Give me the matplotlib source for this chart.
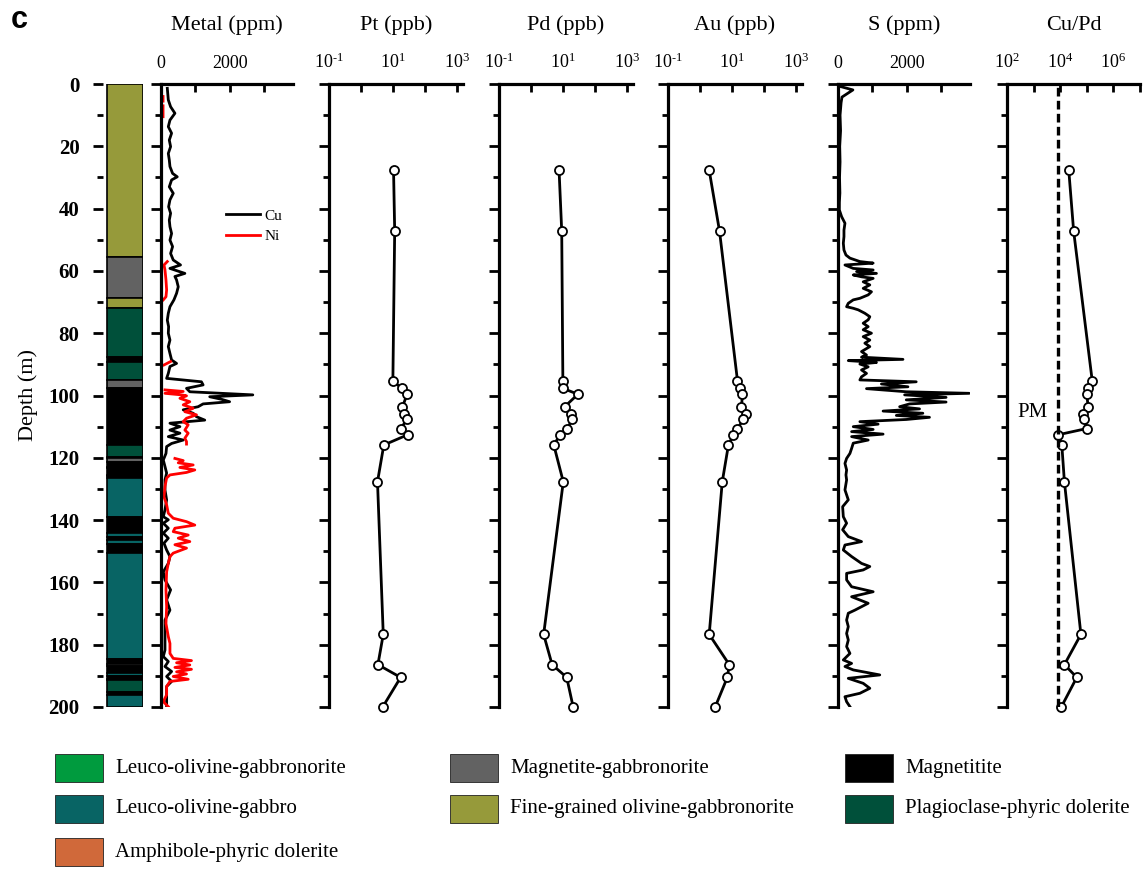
import numpy as np
import matplotlib
matplotlib.use('Agg')
import matplotlib.pyplot as plt
from matplotlib.ticker import MultipleLocator, FixedLocator, FixedFormatter, NullLocator

plt.rcParams['font.family'] = ['Liberation Serif', 'DejaVu Serif']
plt.rcParams['mathtext.fontset'] = 'stix'

# ---------------- data ----------------
lith_top = [0, 55.5, 68.8, 72, 87.8, 89.1, 95.0, 97.5, 115.9, 119.6, 120.2, 121.2, 122.8, 123.3,
            125.6, 126.0, 126.6, 138.9, 144.0, 145.3, 146.3, 147.7, 150.7, 184.7, 186.3, 186.7,
            189.0, 190.2, 191.0, 191.4, 195.1, 196.0]
lith_bot = lith_top[1:] + [200]
lith_type = ['FG', 'MG', 'FG', 'PD', 'MT', 'PD', 'MG', 'MT', 'PD', 'MT', 'MG', 'MT', 'MG', 'MT',
             'MG', 'MT', 'LG', 'MT', 'LG', 'MT', 'LG', 'MT', 'LG', 'MT', 'MG', 'MT',
             'LG', 'MT', 'AD', 'PD', 'MT', 'LG']

legend_names = {
    'LN': 'Leuco-olivine-gabbronorite',
    'LG': 'Leuco-olivine-gabbro',
    'AD': 'Amphibole-phyric dolerite',
    'MG': 'Magnetite-gabbronorite',
    'FG': 'Fine-grained olivine-gabbronorite',
    'MT': 'Magnetitite',
    'PD': 'Plagioclase-phyric dolerite',
}
lith_colors = {'LN': '#009B3E', 'LG': '#086464', 'AD': '#D0693A', 'MG': '#626262',
               'FG': '#969A3A', 'MT': '#000000', 'PD': '#00503A'}
legend_order = [['LN', 'LG', 'AD'], ['MG', 'FG'], ['MT', 'PD']]

cu_depth = [1.4, 5.1, 7.3, 9.4, 11.6, 13.7, 15.8, 18.0, 20.1, 22.3, 24.4, 26.5, 28.7, 29.8, 30.8,
            33.0, 35.1, 37.2, 39.4, 41.5, 43.7, 45.8, 48.0, 50.1, 52.2, 54.4, 56.5, 58.1, 59.2,
            60.2, 60.8, 61.8, 62.9, 65.1, 67.2, 69.3, 71.5, 73.6, 75.8, 77.9, 80.0, 82.2, 84.3,
            86.5, 88.6, 89.7, 90.7, 92.9, 94.5, 95.6, 96.6, 97.7, 98.8, 99.8, 100.4, 101.2, 102.0,
            102.7, 103.6, 104.6, 105.7, 106.8, 107.9, 108.9, 110.0, 111.1, 112.1, 113.2, 114.3,
            115.4, 116.4, 118.6, 120.7, 122.8, 124.9, 127.1, 130.3, 133.5, 136.7, 138.9, 139.9,
            141.0, 142.6, 144.2, 145.8, 147.4, 149.6, 151.7, 153.9, 156.6, 159.2, 162.4, 165.6,
            168.9, 172.1, 176.3, 181.7, 183.8, 185.4, 187.0, 188.6, 190.2, 191.8, 193.4, 196.7,
            199.9]
cu_ppm = [184, 213, 280, 406, 261, 213, 309, 242, 280, 213, 242, 261, 338, 474, 309,
          242, 357, 261, 222, 280, 242, 261, 309, 261, 338, 280, 357, 570, 261,
          532, 696, 406, 454, 503, 454, 377, 261, 213, 184, 222, 213, 261, 213,
          261, 309, 454, 261, 213, 164, 1179, 1228, 744, 841, 2678, 1421, 1759, 2001,
          1228, 1083, 648, 938, 1034, 1276, 261, 551, 261, 551, 213, 648,
          309, 164, 145, 67, 116, 164, 116, 116, 164, 116, 67, 213,
          67, 213, 67, 213, 87, 164, 261, 213, 67, 116, 280, 164,
          261, 116, 116, 116, 67, 213, 116, 309, 164, 309, 164, 164,
          164]

ni_depth = [4.0, 5.5, np.nan, 7.0, 10.5, np.nan,
            57.0, 58.1, 59.7, 62.9, 66.1, 68.3, 69.3, np.nan,
            89.1, 90.2, np.nan,
            98.2, 98.7, 99.3, 99.8, 100.1, 100.9, 102.0, 103.0, 104.1, 105.2, 106.2, 107.3, 108.4,
            109.4, 111.1, 112.1, 113.7, 114.8, 115.6, np.nan,
            120.2, 120.9, 121.6, 122.3, 123.1, 123.9, 124.7, 125.5, 126.5, 129.2, 132.5, 135.1,
            137.8, 139.4, 140.5, 141.6, 142.6, 143.7, 144.8, 145.8, 146.9, 147.9, 149.0, 150.6,
            151.7, 153.9, 156.6, 162.4, 167.8, 173.2, 177.4, 179.6, 182.8, 184.4, 185.1, 185.8,
            186.5, 187.3, 187.9, 188.7, 189.4, 190.2, 191.1, 191.8, 193.4, 196.1, 198.3, 199.9]
ni_ppm = [60, 60, np.nan, 60, 60, np.nan,
          184, 87, 116, 145, 164, 145, 67, np.nan,
          280, 87, np.nan,
          116, 648, 116, 600, 744, 551, 841, 648, 938, 696, 1034, 744, 648,
          793, 696, 793, 696, 744, 744, np.nan,
          406, 648, 503, 938, 551, 986, 744, 261, 164, 116, 87, 164,
          213, 357, 744, 986, 406, 357, 793, 503, 841, 406, 744, 357,
          261, 213, 164, 145, 164, 145, 213, 261, 261, 357, 889, 454,
          841, 406, 889, 454, 744, 357, 793, 261, 164, 164, 67, 213]

s_depth = [0.3, 0.6, 1.9, 4.2, 6, 10, 15, 20, 25, 30, 35, 38,
           40.4, 42.6, 44.7, 46.9, 49.0, 51.1, 53.3, 54.9, 55.9, 57.0, 57.5, 58.1, 59.2, 59.7,
           60.2, 60.8, 61.3, 61.9, 62.4, 63.5, 64.5, 65.6, 66.7, 67.7, 68.8, 69.3, 70.4, 71.5,
           72.0, 72.5, 73.6, 74.7, 75.7, 76.8, 77.9, 78.9, 80.0, 81.1, 82.2, 83.2, 84.3, 85.9,
           87.0, 87.7, 88.4, 88.8, 89.4, 89.9, 90.8, 91.8, 92.9, 94.0, 95.0, 95.6, 96.3, 97.2,
           97.8, 98.8, 99.3, 99.8, 100.6, 101.4, 102.1, 102.7, 103.6, 104.3, 105.0, 105.7,
           106.4, 107.0, 107.7, 108.4, 109.2, 110.0, 110.9, 111.6, 112.4, 113.2, 114.3, 115.3,
           117.0, 118.6, 120.2, 121.8, 123.9, 125.5, 127.1, 130.3, 133.5, 135.7, 138.9, 141.0,
           143.1, 145.3, 146.9, 148.0, 149.6, 151.7, 153.9, 154.9, 156.0, 157.1, 159.2, 161.4,
           163.0, 164.6, 166.7, 168.9, 169.9, 172.1, 174.2, 176.4, 178.5, 180.6, 182.8, 184.9,
           186.0, 187.0, 188.1, 189.7, 190.8, 192.4, 194.0, 195.6, 196.7, 198.3, 199.9]
s_ppm = [0, 0, 435, 116, 90, 60, 75, 50, 60, 45, 55, 40,
         39, 106, 203, 174, 174, 155, 174, 232, 348, 638, 1025, 203, 445, 1025,
         541, 1121, 445, 686, 1025, 735, 928, 735, 976, 880, 638, 445, 300, 251,
         445, 590, 783, 928, 880, 735, 880, 735, 976, 735, 928, 783, 928, 686,
         831, 686, 1895, 300, 1121, 638, 880, 686, 831, 686, 638, 2281, 1266, 2040,
         831, 1991, 3828, 1943, 3152, 1991, 3152, 2088, 1798, 2378, 1315, 2475,
         1701, 2668, 1991, 638, 1170, 445, 1025, 397, 1315, 397, 880, 445,
         397, 348, 251, 203, 251, 232, 251, 203, 300, 135, 155, 251,
         135, 300, 686, 203, 155, 397, 686, 928, 735, 251, 251, 397,
         1025, 397, 880, 493, 300, 251, 300, 251, 300, 251, 348, 155,
         397, 203, 445, 1218, 300, 735, 928, 638, 203, 251, 348]

sample_depth = [27.7, 47.2, 95.3, 97.7, 99.6, 103.6, 106.0, 107.7, 110.6, 112.6, 115.9,
                127.7, 176.7, 186.4, 190.5, 200.0]
pt_ppb = [10.5, 11.4, 10.0, 19, 28, 20, 22, 28, 17.5, 29, 5.2, 3.3, 5.0, 3.4, 17.5, 4.8]
pd_ppb = [7.6, 9.2, 10, 10, 29.5, 11.4, 18, 20, 13.5, 8.2, 5.2, 10.3, 2.5, 4.6, 13.2, 21]
au_ppb = [1.95, 4.1, 15, 17.5, 21.5, 20, 27, 23, 15, 11.2, 7.8, 5.0, 1.95, 8.3, 7.2, 3.0]
cu_pd = [21000, 32000, 160000, 115000, 100000, 112000, 69000, 80000, 100000, 8500, 11500,
         14400, 60000, 14400, 42000, 11000]
pm_cu_pd = 8000

titles = ['Metal (ppm)', 'Pt (ppb)', 'Pd (ppb)', 'Au (ppb)', 'S (ppm)', 'Cu/Pd']
lin_ticks = [0, 1000, 2000, 3000]
lin_labels = ['0', '', '2000', '']
log_ticks = [1e-1, 1e0, 1e1, 1e2, 1e3]
log_labels = [r'$\mathregular{10^{\text{-}1}}$', '', r'$\mathregular{10^{1}}$', '',
              r'$\mathregular{10^{3}}$']
cupd_ticks = [1e2, 1e3, 1e4, 1e5, 1e6, 1e7]
cupd_labels = [r'$\mathregular{10^{2}}$', '', r'$\mathregular{10^{4}}$', '',
               r'$\mathregular{10^{6}}$', '']

# ---------------- figure ----------------
W, H = 1146, 869
fig = plt.figure(figsize=(W / 100, H / 100), dpi=100)
Y0, Y1 = 84, 707
LW = 2.0


def add_ax(x0, x1):
    return fig.add_axes([x0 / W, 1 - Y1 / H, (x1 - x0) / W, (Y1 - Y0) / H])


def style_depth(ax, labels=False):
    ax.set_ylim(200, 0)
    ax.yaxis.set_major_locator(MultipleLocator(20))
    ax.yaxis.set_minor_locator(MultipleLocator(10))
    ax.tick_params(axis='y', which='major', direction='out', length=7, width=2.0,
                   labelleft=labels, pad=10, labelsize=15)
    ax.tick_params(axis='y', which='minor', direction='out', length=4, width=2.0)


def style_panel(ax, title):
    for s in ['right', 'bottom']:
        ax.spines[s].set_visible(False)
    for s in ['left', 'top']:
        ax.spines[s].set_linewidth(2.3)
    style_depth(ax)
    ax.xaxis.tick_top()
    ax.tick_params(axis='x', which='major', direction='in', length=6, width=2.0,
                   pad=9, labelsize=13)
    ax.xaxis.set_minor_locator(NullLocator())
    x0 = ax.get_position().x0
    x1 = ax.get_position().x1
    fig.text((x0 + x1) / 2, 1 - 25 / H, title, ha='center', va='center', fontsize=16)


# lithology column
axl = add_ax(103, 143)
for s in axl.spines.values():
    s.set_visible(False)
axl.set_xlim(0, 1)
axl.set_xticks([])
style_depth(axl, labels=True)
for lab in axl.get_yticklabels():
    lab.set_fontweight('bold')
for t, b, k in zip(lith_top, lith_bot, lith_type):
    axl.bar(0.55, b - t, bottom=t, width=0.9, color=lith_colors[k], edgecolor='black', linewidth=1.2)
fig.text(28 / W, 1 - 395 / H, 'Depth (m)', rotation=90, ha='center', va='center', fontsize=16)
fig.text(11 / W, 1 - 20 / H, 'c', family='Liberation Sans', fontweight='bold', fontsize=22,
         ha='left', va='center')

# metal
axm = add_ax(161, 293)
axm.plot(cu_ppm, cu_depth, color='black', lw=LW, label='Cu')
axm.plot(ni_ppm, ni_depth, color='red', lw=LW, label='Ni')
axm.set_xlim(0, 3850)
axm.xaxis.set_major_locator(FixedLocator(lin_ticks))
axm.xaxis.set_major_formatter(FixedFormatter(lin_labels))
style_panel(axm, titles[0])
axm.legend(loc='upper left', bbox_to_anchor=(226 / W, 1 - 209 / H), bbox_transform=fig.transFigure,
           frameon=False, fontsize=11, handlelength=2.2, handletextpad=0.3, labelspacing=0.45,
           borderpad=0, borderaxespad=0)

# Pt, Pd, Au
for (x0, x1), vals, title in zip([(329, 463), (499, 633), (668, 802)],
                                 [pt_ppb, pd_ppb, au_ppb], titles[1:4]):
    ax = add_ax(x0, x1)
    ax.plot(vals, sample_depth, color='black', lw=LW, marker='o', ms=6.5, mfc='white',
            mec='black', mew=1.3, clip_on=False)
    ax.set_xscale('log')
    ax.set_xlim(0.1, 1570)
    ax.xaxis.set_major_locator(FixedLocator(log_ticks))
    ax.xaxis.set_major_formatter(FixedFormatter(log_labels))
    style_panel(ax, title)

# S
axs = add_ax(838, 970)
axs.plot(s_ppm, s_depth, color='black', lw=LW)
axs.set_xlim(0, 3850)
axs.xaxis.set_major_locator(FixedLocator(lin_ticks))
axs.xaxis.set_major_formatter(FixedFormatter(lin_labels))
style_panel(axs, titles[4])

# Cu/Pd
axc = add_ax(1007, 1140)
axc.plot(cu_pd, sample_depth, color='black', lw=LW, marker='o', ms=6.5, mfc='white',
         mec='black', mew=1.3, clip_on=False, zorder=3)
axc.axvline(pm_cu_pd, color='black', lw=2.4, ls=(0, (2.6, 1.3)), zorder=4)
axc.set_xscale('log')
axc.set_xlim(1e2, 1e7)
axc.xaxis.set_major_locator(FixedLocator(cupd_ticks))
axc.xaxis.set_major_formatter(FixedFormatter(cupd_labels))
style_panel(axc, titles[5])
fig.text(1032 / W, 1 - 413 / H, 'PM', ha='center', va='center', fontsize=15)

# lithology legend
axg = fig.add_axes([0, 0, 1, 1], zorder=-1)
axg.set_xlim(0, W)
axg.set_ylim(H, 0)
axg.axis('off')
col_x = [55, 450, 845]
row_y = [768, 809, 852]
for cx, keys in zip(col_x, legend_order):
    for ry, k in zip(row_y, keys):
        axg.add_patch(plt.Rectangle((cx, ry - 14), 48, 28, facecolor=lith_colors[k],
                                    edgecolor='#222222', linewidth=0.6))
        axg.text(cx + 60, ry, legend_names[k], ha='left', va='center', fontsize=15)

fig.savefig('out.png', dpi=100)
